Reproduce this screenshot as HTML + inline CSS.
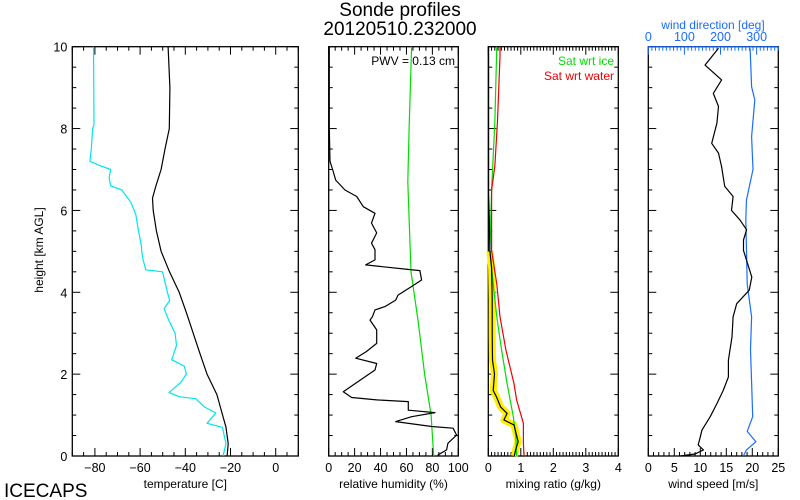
<!DOCTYPE html>
<html><head><meta charset="utf-8"><style>
html,body{margin:0;padding:0;background:#fff;}
svg{display:block;font-family:"Liberation Sans",sans-serif;}
</style></head><body>
<svg id="c" width="800" height="500" viewBox="0 0 800 500">
<text x="400" y="16" font-size="19" text-anchor="middle" fill="#000">Sonde profiles</text>
<text x="400" y="35" font-size="19" text-anchor="middle" fill="#000">20120510.232000</text>
<text x="4" y="497" font-size="19" fill="#000">ICECAPS</text>
<text transform="translate(43,250) rotate(-90)" font-size="12" text-anchor="middle">height [km AGL]</text>
<g id="g"></g>
</svg>
<script>
// ---- data ----
const tHeights = [0,0.3,0.7,1,1.5,2,2.5,3,3.5,4,4.5,5,5.5,6,6.3,6.6,7,7.5,8,9,10];
const tempVals = [-21.5,-21,-22,-23.5,-26,-30.4,-33.5,-36.5,-39.5,-42.7,-47,-50.7,-52.8,-54.2,-54.5,-53,-50.7,-49,-47.1,-46.8,-47.6];
const dHeights = [0,0.3,0.7,0.8,1.05,1.2,1.4,1.45,1.55,1.8,2,2.2,2.35,2.7,3,3.3,3.6,3.8,4,4.5,4.55,4.8,5,5.12,5.5,5.9,6.2,6.5,6.6,6.8,7,7.1,7.2,7.5,8,8.1,10];
const dewVals = [-23.3,-22,-23.6,-30.4,-26.5,-31.6,-35.4,-42.7,-47.2,-42,-39.5,-40.5,-46,-43.9,-44.5,-47.2,-49.4,-46.9,-47.9,-50.1,-57.5,-58.7,-59.3,-59.4,-60.7,-61.9,-64.1,-68.1,-73,-73.7,-73,-78,-82.2,-81.6,-81,-80.4,-80.6];
const rhHeights = [0.02,0.15,0.31,0.51,0.68,0.72,0.84,0.96,1.06,1.12,1.33,1.37,1.43,1.57,1.82,2.1,2.26,2.39,2.55,2.75,3.08,3.32,3.4,3.57,3.65,3.81,3.93,4.14,4.3,4.53,4.56,4.67,4.79,5.04,5.2,5.45,5.69,5.93,6.09,6.34,6.5,6.74,7.0,7.2,8,10];
const rhVals = [84,91,92,98.7,96,79.5,51.7,64,82,61.4,61.4,37,17.7,11.3,22.8,35.7,37,20.8,29,37,37,31.9,33.7,35.7,43.4,51.7,53.5,64,71.7,70.4,61,28.5,35.7,35.7,33,37,33,35.7,26.7,21.6,12.6,5.4,3,1,0.5,0.5];
const rhiHeights = [0,1,2,3.3,4.5,6.7,8,10];
const rhiVals = [81,79,74,69,63.5,61,62,64];
const mrHeights = [0,0.15,0.35,0.6,0.76,0.88,1.04,1.2,1.45,1.6,2.0,2.34,3.0,3.8,4.6,5.0,5.8,6.4,10];
const mrVals = [0.8,0.84,0.92,0.84,0.79,0.48,0.58,0.38,0.25,0.15,0.19,0.13,0.12,0.12,0.1,0.05,0.03,0.01,0.01];
const satWHeights = [0,0.3,0.8,1.37,1.77,2.59,3.4,4.2,5.02,6.5,7.07,8.13,9.76,10];
const satWVals = [1.1,1.08,1.08,0.87,0.79,0.54,0.36,0.26,0.1,0.1,0.2,0.28,0.36,0.36];
const satIHeights = [0,0.47,0.96,1.77,2.59,3.4,4.2,5.02,6.5,8.13,10];
const satIVals = [0.87,0.85,0.77,0.58,0.41,0.26,0.15,0.05,0.1,0.2,0.26];
const wsHeights = [0,0.05,0.15,0.27,0.47,0.63,0.96,1.28,1.6,1.93,2.34,2.91,3.4,3.72,4.05,4.37,5.02,5.28,5.53,5.77,6.0,6.34,6.59,7.07,7.4,7.64,8.13,8.54,8.86,9.19,9.55,9.96];
const wsVals = [6.1,9,10.6,9.6,10,10.3,11.9,13.2,14.4,15.4,15.4,16.1,16.3,17,19.4,19.9,18.3,18.3,18.9,17.6,16,16.3,14.7,14.1,13.5,12.2,13.2,13.5,12.5,14.1,10.9,13.5];
const wdHeights = [0,0.15,0.35,0.6,0.96,1.8,2.6,3.4,4.2,5.02,5.8,6.26,7,7.8,8.7,9.02,9.96];
const wdVals = [263,272,298,274,289,286,283,286,274,272,270,272,290,286,295,286,282];
const tempTicks = [-80,-60,-40,-20,0];
const rhTicks = [0,20,40,60,80,100];
const mrTicks = [0,1,2,3,4];
const wsTicks = [0,5,10,15,20,25];
const wdTicks = [0,100,200,300];
const hTicks = [0,2,4,6,8,10];

// ---- layout ----
const Y0 = 456, Y1 = 46.7;
const yS = h => Y0 - (h/10)*(Y0-Y1);
function xScale(x0,x1,d0,d1){return v => x0 + (v-d0)/(d1-d0)*(x1-x0);}
const P1 = {x0:72.3,x1:298.3}, P2={x0:328.7,x1:458.3}, P3={x0:488.3,x1:618.3}, P4={x0:648.3,x1:778.3};
const xT = xScale(P1.x0,P1.x1,-90,10);
const xRH = xScale(P2.x0,P2.x1,0,100);
const xMR = xScale(P3.x0,P3.x1,0,4);
const xWS = xScale(P4.x0,P4.x1,0,25);
const xWD = xScale(P4.x0,P4.x1,0,360);
const NS='http://www.w3.org/2000/svg';
const G=document.getElementById('g');
function mk(tag,attrs,parent){const e=document.createElementNS(NS,tag);for(const k in attrs)e.setAttribute(k,attrs[k]);(parent||G).appendChild(e);return e;}
function line(x1,y1,x2,y2,col,parent){return mk('line',{x1,y1,x2,y2,stroke:col||'#000','stroke-width':1},parent);}
function txt(x,y,s,size,col,anchor){const t=mk('text',{x,y,'font-size':size,fill:col||'#000','text-anchor':anchor||'middle'});t.textContent=s;return t;}

function panel(P,name,xs,d0,d1,minor,labels,title,leftLabels){
  const g=mk('g',{});
  
  
  mk('rect',{x:P.x0,y:Y1,width:P.x1-P.x0,height:Y0-Y1,fill:'none',stroke:'#000','stroke-width':1.3},g);
  for(let v=d0; v<=d1+1e-9; v+=minor){
    const x=xs(v); const major=labels.some(l=>Math.abs(l-v)<1e-6);
    const L=major?8:4;
    line(x,Y0,x,Y0-L,'#000',g);
    if(name!=='wind') line(x,Y1,x,Y1+L,'#000',g);
  }
  for(const l of labels){const t=txt(xs(l),472,(l<0?'\u2212'+(-l):String(l)),12.5,'#000');
    
    }
  for(let h=0; h<=10.001; h+=0.5){
    const y=yS(h); const major=Math.abs(h-Math.round(h/2)*2)<1e-6; const L=major?8:4;
    line(P.x0,y,P.x0+L,y,'#000',g); line(P.x1,y,P.x1-L,y,'#000',g);
  }
  if(leftLabels){for(const h of hTicks){const t=txt(P.x0-5,yS(h)+5,String(h),12.5,'#000','end');
    
    }}
  const tt=txt((P.x0+P.x1)/2,488,title,12,'#000');
  
  
}
function series(xs,vals,hs,col,name,w){
  let d='';
  for(let i=0;i<vals.length;i++){d+=(i?'L':'M')+xs(vals[i]).toFixed(1)+' '+yS(hs[i]).toFixed(1);}
  const p=mk('path',{d,fill:'none',stroke:col,'stroke-width':w||1.2,'stroke-linejoin':'round','stroke-linecap':'butt'});
  
  
  return p;
}

panel(P1,'temperature',xT,-90,10,5,tempTicks,'temperature [C]',true);
panel(P2,'humidity',xRH,0,100,5,rhTicks,'relative humidity (%)',false);
panel(P3,'mixing',xMR,0,4,0.1,mrTicks,'mixing ratio (g/kg)',false);
panel(P4,'wind',xWS,0,25,1,wsTicks,'wind speed [m/s]',false);

line(P4.x0,Y1,P4.x1,Y1,'#1a6cff');
for(let v=0; v<=360; v+=10){const x=xWD(v); const L=(v%100===0)?8:4; line(x,Y1,x,Y1+L,'#1a6cff');}
for(const l of wdTicks){const t=txt(xWD(l),41,String(l),12.5,'#1a6cff');
  
  }
const wdt=txt(713,29,'wind direction [deg]',12,'#1a6cff');



// yellow band only in the lower part
const yH=[], yV=[];
for(let i=0;i<mrHeights.length;i++){ if(mrHeights[i]<=5.0){ yH.push(mrHeights[i]); yV.push(mrVals[i]); } }

series(xT,dewVals,dHeights,'#00e5ee','dewpoint-line');
series(xT,tempVals,tHeights,'#000','temperature-line');
series(xRH,rhiVals,rhiHeights,'#00dd00','rh-ice-line');
series(xRH,rhVals,rhHeights,'#000','relative-humidity-line');
series(xMR,yV,yH,'#ffee00','mixing-ratio-uncertainty',7);
series(xMR,satIVals,satIHeights,'#00dd00','sat-ice-line');
series(xMR,satWVals,satWHeights,'#ee0000','sat-water-line');
series(xMR,mrVals,mrHeights,'#000','mixing-ratio-line');
series(xWD,wdVals,wdHeights,'#1a6cff','wind-direction-line');
series(xWS,wsVals,wsHeights,'#000','wind-speed-line');

const pw=txt(455,65,'PWV = 0.13 cm',12,'#000','end');


const l1=txt(614,65,'Sat wrt ice',12,'#00dd00','end');


const l2=txt(614,80,'Sat wrt water',12,'#ee0000','end');


</script>
</body></html>
